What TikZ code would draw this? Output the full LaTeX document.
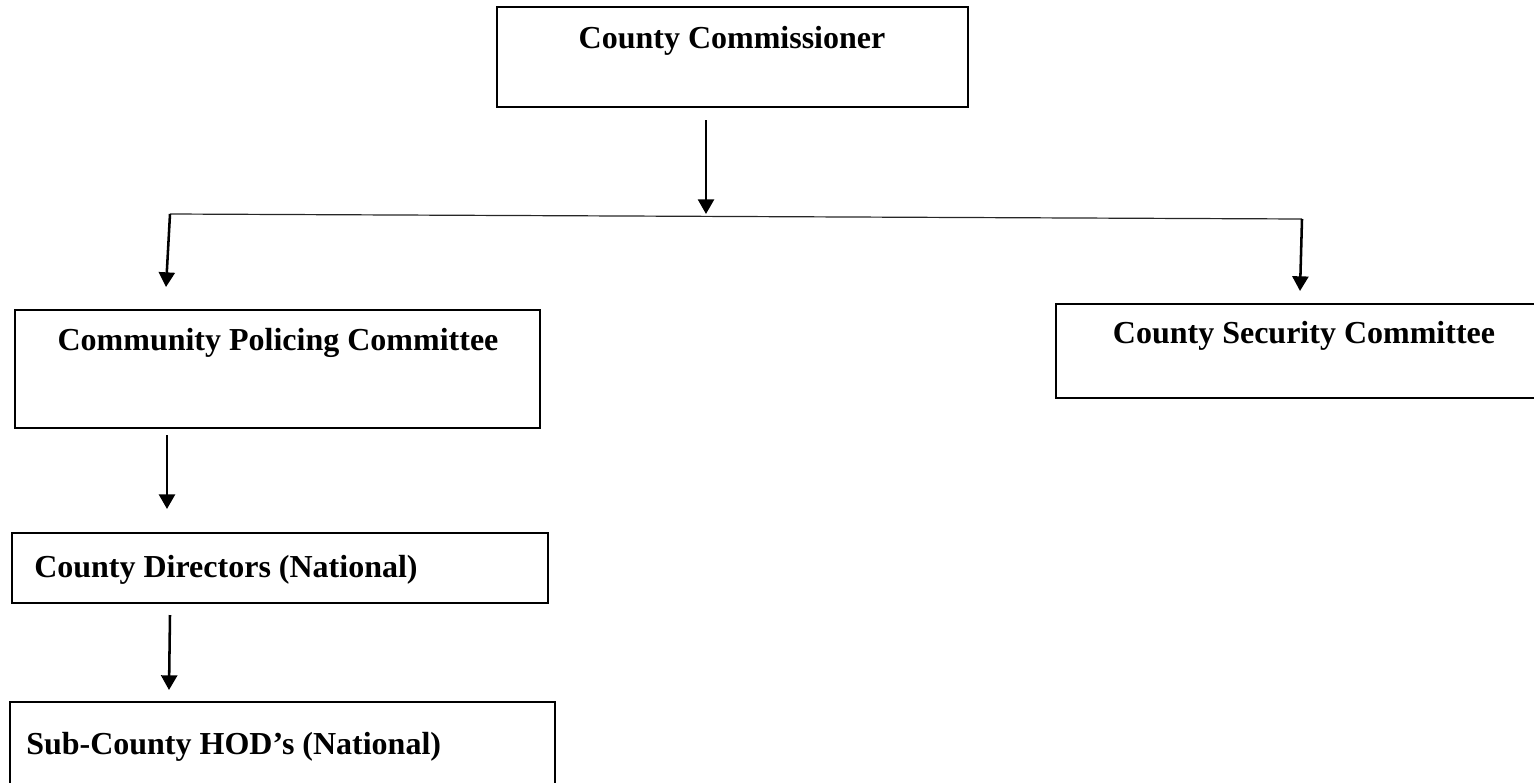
\documentclass[tikz,border=0pt]{standalone}
\usepackage{fontspec}
\setmainfont{Liberation Serif}
\usetikzlibrary{arrows.meta}
\begin{document}
\begin{tikzpicture}[x=0.75pt,y=-0.75pt,
  box/.style={draw=black,line width=0.9pt},
  lbl/.style={font=\bfseries\fontsize{24}{28}\selectfont,inner sep=0pt},
  down/.style={line width=1.9pt,-{Triangle[width=12pt,length=11pt]}},
  rail/.style={line width=0.9pt,draw=black!85}]
\useasboundingbox (0,0) rectangle (1534,782);

% boxes and their titles
\draw[box] (497,7) rectangle (968,107);
\node[lbl,anchor=base] (cc) at (732,48) {County Commissioner};

\draw[box] (15,310) rectangle (540,428);
\node[lbl,anchor=base] (cpc) at (278,350) {Community Policing Committee};

\draw[box] (1545,304) -- (1056,304) -- (1056,398) -- (1545,398);
\node[lbl,anchor=base] (csc) at (1304,343) {County Security Committee};

\draw[box] (12,533) rectangle (548,603);
\node[lbl,anchor=base west] (cd) at (34,577) {County Directors (National)};

\draw[box] (555,790) -- (555,702) -- (10,702) -- (10,790);
\node[lbl,anchor=base west] (sc) at (26,754) {Sub-County HOD’s (National)};

% connector points
\coordinate (t0) at (706,120);
\coordinate (t1) at (706,214);
\coordinate (hl) at (170,214);
\coordinate (hr) at (1302,219);
\coordinate (l1) at (166,287);
\coordinate (r1) at (1300,291);
\coordinate (m0) at (167,435);
\coordinate (m1) at (167,509);
\coordinate (n0) at (170,615);
\coordinate (n1) at (169,690);

\draw[rail] (hl) -- (hr);
\draw[down] (t0) -- (t1);
\draw[down] (hl) -- (l1);
\draw[down] (hr) -- (r1);
\draw[down] (m0) -- (m1);
\draw[down] (n0) -- (n1);
\end{tikzpicture}
\end{document}
